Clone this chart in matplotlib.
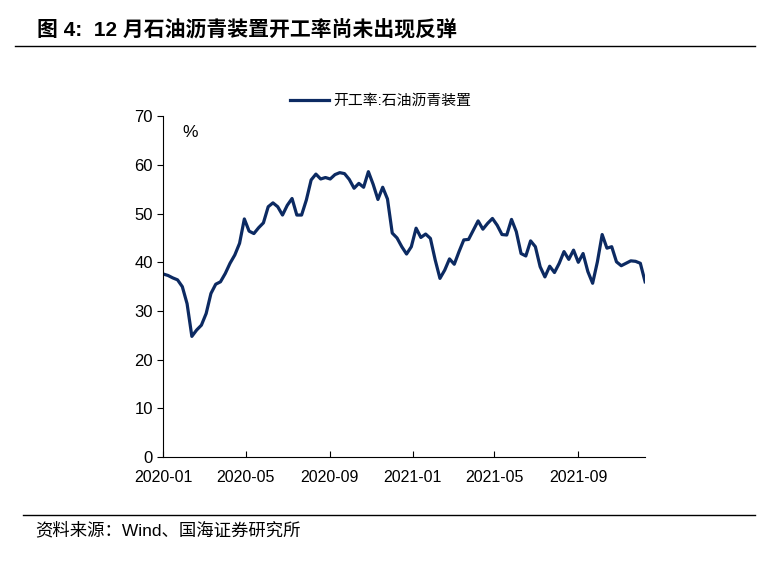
import numpy as np
import pandas as pd
import matplotlib
matplotlib.use("Agg")
import matplotlib.pyplot as plt
import matplotlib.dates as mdates

plt.rcParams["font.family"] = ["Liberation Sans", "Noto Sans CJK SC", "DejaVu Sans"]

# weekly operating rate of petroleum asphalt units (%)
dates = pd.date_range("2020-01-01", periods=102, freq="7D")
rate = [
    37.6, 37.3, 36.8, 36.4, 35.0, 31.5, 24.8, 26.1, 27.1, 29.5,
    33.6, 35.5, 36.0, 37.7, 39.8, 41.5, 43.9, 48.9, 46.4, 45.9,
    47.1, 48.1, 51.4, 52.2, 51.4, 49.7, 51.7, 53.1, 49.7, 49.7,
    52.8, 56.9, 58.1, 57.1, 57.4, 57.1, 58.0, 58.4, 58.2, 57.0,
    55.2, 56.2, 55.4, 58.6, 56.0, 52.9, 55.4, 53.0, 46.0, 45.0,
    43.2, 41.7, 43.2, 47.0, 45.1, 45.8, 44.9, 40.5, 36.7, 38.4,
    40.7, 39.6, 42.2, 44.6, 44.7, 46.6, 48.5, 46.8, 48.0, 49.0,
    47.6, 45.7, 45.6, 48.8, 46.3, 41.8, 41.3, 44.4, 43.2, 39.1,
    37.0, 39.2, 37.9, 39.8, 42.2, 40.6, 42.5, 40.0, 41.8, 38.1,
    35.7, 40.1, 45.7, 42.9, 43.2, 40.1, 39.3, 39.8, 40.3, 40.2,
    39.8, 36.0,
]
tick_dates = pd.to_datetime(["2020-01-01", "2020-05-01", "2020-09-01",
                             "2021-01-01", "2021-05-01", "2021-09-01"])

title = "图 4:  12 月石油沥青装置开工率尚未出现反弹"
source = "资料来源：Wind、国海证券研究所"
series_name = "开工率:石油沥青装置"

fig = plt.figure(figsize=(7.81, 5.61), dpi=100)
ax = fig.add_axes([0.209, 0.185, 0.617, 0.608])

ax.plot(dates, rate, color="#0c2a62", lw=2.3, label=series_name)

ax.set_ylim(0, 70)
ax.set_yticks(range(0, 71, 10))
ax.set_xlim(dates[0], dates[-1])
ax.set_xticks(tick_dates)
ax.xaxis.set_major_formatter(mdates.DateFormatter("%Y-%m"))
ax.tick_params(axis="x", direction="in", length=4, labelsize=11.5, pad=9)
ax.tick_params(axis="y", direction="out", length=4, labelsize=12)
for s in ("top", "right"):
    ax.spines[s].set_visible(False)
ax.text(0.04, 0.975, "%", transform=ax.transAxes, fontsize=12.5, va="top")

ax.legend(loc="lower center", bbox_to_anchor=(0.452, 0.985), frameon=False,
          fontsize=10.7, handlelength=2.6, handletextpad=0.3)

fig.text(0.047, 0.946, title, fontsize=15, fontweight="bold", va="center")
fig.add_artist(plt.Line2D([0.019, 0.967], [0.918, 0.918], color="black", lw=1))
fig.add_artist(plt.Line2D([0.029, 0.967], [0.082, 0.082], color="black", lw=1))
fig.text(0.045, 0.055, source, fontsize=12.5, va="center")

fig.savefig("out.png", dpi=100)
